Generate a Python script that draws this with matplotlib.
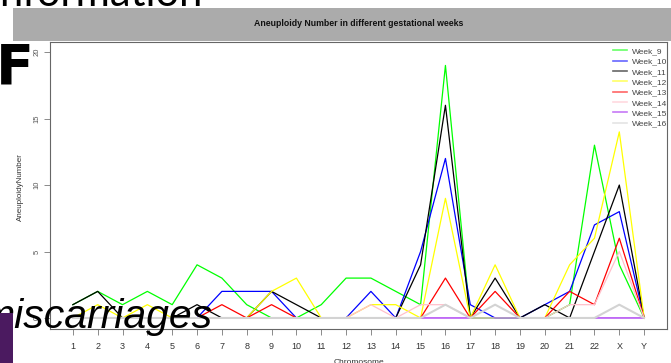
import matplotlib
matplotlib.use("Agg")
import matplotlib.pyplot as plt
from matplotlib.patches import Rectangle
import numpy as np

chromosomes = [str(i) for i in range(1, 23)] + ["X", "Y"]
week_9  = [1, 2, 1, 2, 1, 4, 3, 1, 0, 0, 1, 3, 3, 2, 1, 19, 0, 0, 0, 0, 1, 13, 4, 0]
week_10 = [0, 0, 0, 0, 0, 0, 2, 2, 2, 0, 0, 0, 2, 0, 5, 12, 1, 0, 0, 1, 2, 7, 8, 0]
week_11 = [1, 2, 0, 0, 0, 1, 0, 0, 2, 1, 0, 0, 0, 0, 4, 16, 0, 3, 0, 1, 0, 5, 10, 0]
week_12 = [0, 1, 0, 1, 0, 0, 0, 0, 2, 3, 0, 0, 1, 1, 0, 9, 0, 4, 0, 0, 4, 6, 14, 0]
week_13 = [0, 0, 0, 0, 0, 0, 1, 0, 1, 0, 0, 0, 0, 0, 0, 3, 0, 2, 0, 0, 2, 1, 6, 0]
week_14 = [0, 0, 0, 0, 0, 0, 0, 0, 0, 0, 0, 0, 1, 0, 1, 1, 0, 0, 0, 0, 1, 1, 5, 0]
week_15 = [0] * 24
week_16 = [0, 0, 0, 0, 0, 0, 0, 0, 0, 0, 0, 0, 0, 0, 0, 1, 0, 1, 0, 0, 0, 0, 1, 0]

series = [week_9, week_10, week_11, week_12, week_13, week_14, week_15, week_16]
labels = ["Week_9", "Week_10", "Week_11", "Week_12", "Week_13", "Week_14", "Week_15", "Week_16"]
colors = ["#00FF00", "#0000FF", "#000000", "#FFFF00", "#FF0000", "#FFC0CB", "#A020F0", "#D3D3D3"]
widths = [0.9, 0.9, 0.9, 0.9, 0.9, 0.9, 0.9, 1.5]
orders = [2.0, 2.1, 2.2, 2.3, 2.4, 2.5, 1.5, 2.7]

W, H = 671, 363
fig = plt.figure(figsize=(W / 100, H / 100), dpi=100)
fig.patch.set_facecolor("white")

# grey title band
fig.add_artist(Rectangle((13 / W, 1 - 40.7 / H), 1, 32.4 / H, transform=fig.transFigure,
                         facecolor="#ABABAB", edgecolor="none", zorder=0))
fig.text(359 / W, 1 - 23.5 / H, "Aneuploidy Number in different gestational weeks",
         ha="center", va="center", fontsize=6.3, fontweight="bold",
         family="Liberation Sans", color="#111111")

ax = fig.add_axes([50 / W, 1 - 328.6 / H, (667 - 50) / W, (328.6 - 41.5) / H])
x = np.arange(1, len(chromosomes) + 1)
for vals, lab, col, lw, zo in zip(series, labels, colors, widths, orders):
    ax.plot(x, vals, color=col, lw=lw, label=lab, snap=False, zorder=zo)

ax.set_xlim(0.08, 24.92)
ax.set_ylim(-0.8, 20.8)
ax.set_xticks(x)
ax.set_xticklabels(chromosomes, fontsize=6.5, family="Liberation Sans", color="#333333")
ax.set_yticks([0, 5, 10, 15, 20])
ax.set_yticklabels(["0", "5", "10", "15", "20"], fontsize=5.5, family="Liberation Sans",
                   color="#555555", rotation=90, va="center")
ax.tick_params(axis="both", direction="out", length=4, width=0.6, color="#777777")
ax.tick_params(axis="x", pad=6)
ax.tick_params(axis="y", pad=3)
for s in ax.spines.values():
    s.set_color("#666666")
    s.set_linewidth(0.8)

fig.text(20 / W, 1 - 187 / H, "AneuploidyNumber", rotation=90, ha="center", va="center",
         fontsize=5.8, family="Liberation Sans", color="#333333")
fig.text(359 / W, 1 - 362 / H, "Chromosome", ha="center", va="center",
         fontsize=6, family="Liberation Sans", color="#333333")

handles, labs = ax.get_legend_handles_labels()
leg = ax.legend(handles, labs, loc="upper left", bbox_to_anchor=(613 / W, 1 - 47.5 / H),
                bbox_transform=fig.transFigure, frameon=False, borderpad=0,
                borderaxespad=0, handlelength=1.65, handletextpad=0.65,
                labelspacing=0.3, prop={"family": "Liberation Sans", "size": 6.0})
for t in leg.get_texts():
    t.set_color("#444444")
for l in leg.get_lines():
    l.set_alpha(0.6)
    l.set_linewidth(1.2)

# slide overlay elements
fig.text(-1 / W, 1 - 6 / H, "nformation", ha="left", va="baseline", fontsize=30,
         family="Lato", color="black")
fig.text(-4 / W, 1 - 83 / H, "F", ha="left", va="baseline", fontsize=40,
         family=["Liberation Sans Narrow", "DejaVu Sans"], fontweight="bold", color="black")
fig.text(-20 / W, 1 - 328 / H, "miscarriages", ha="left", va="baseline", fontsize=29.5,
         family="Liberation Sans", fontstyle="italic", color="black")
fig.add_artist(Rectangle((0, 0), 13 / W, 50 / H, transform=fig.transFigure,
                         facecolor="#4B1A60", edgecolor="none", zorder=5))

fig.savefig("out.png", dpi=100)
